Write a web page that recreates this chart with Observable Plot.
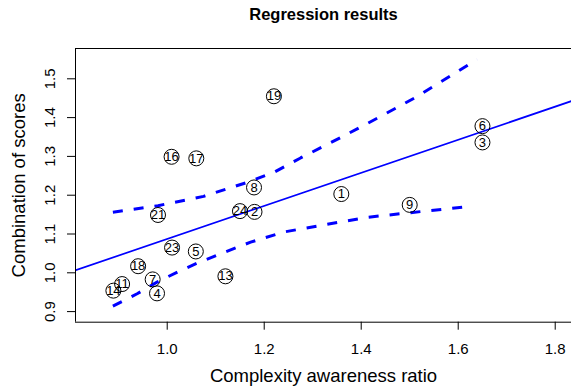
<!DOCTYPE html>
<html><head><meta charset="utf-8">
<script src="https://cdn.jsdelivr.net/npm/d3@7"></script>
<script src="https://cdn.jsdelivr.net/npm/@observablehq/plot@0.6"></script>
<style>body{margin:0;background:#fff} svg{display:block}</style>
</head><body><div id="chart"></div>
<script>
// Observations (case number, complexity awareness ratio, combination of scores)
const ids   = [1, 2, 3, 4, 5, 6, 7, 8, 9, 11, 13, 14, 16, 17, 18, 19, 21, 23, 24];
const ratio = [1.359, 1.180, 1.650, 0.979, 1.059, 1.650, 0.970, 1.179, 1.500, 0.907, 1.120, 0.889, 1.009, 1.060, 0.940, 1.220, 0.981, 1.010, 1.150];
const score = [1.203, 1.157, 1.336, 0.947, 1.055, 1.378, 0.983, 1.220, 1.175, 0.971, 0.991, 0.954, 1.299, 1.295, 1.017, 1.455, 1.149, 1.065, 1.159];

// Fitted regression line (read at the two plot edges)
const fitX = [0.81, 1.84];
const fitY = [1.0062, 1.4453];

// Confidence band
const upperX = [0.888, 0.981, 1.075, 1.165, 1.220, 1.275, 1.357, 1.440, 1.515, 1.591, 1.639];
const upperY = [1.156, 1.173, 1.197, 1.233, 1.259, 1.296, 1.348, 1.403, 1.454, 1.513, 1.550];
const lowerX = [0.888, 0.938, 0.979, 1.021, 1.062, 1.110, 1.172, 1.240, 1.316, 1.412, 1.502, 1.629];
const lowerY = [0.914, 0.946, 0.976, 1.002, 1.025, 1.049, 1.079, 1.105, 1.122, 1.143, 1.155, 1.172];

const xTicks = [1.0, 1.2, 1.4, 1.6, 1.8];
const yTicks = [0.9, 1.0, 1.1, 1.2, 1.3, 1.4, 1.5];

const xDomain = [0.8109, 1.8336];
const yDomain = [0.8727, 1.5781];

const points = ids.map((id, i) => ({id: String(id), x: ratio[i], y: score[i]}));
const fit = fitX.map((x, i) => ({x, y: fitY[i]}));
const upper = upperX.map((x, i) => ({x, y: upperY[i]}));
const lower = lowerX.map((x, i) => ({x, y: lowerY[i]}));

const blue = "#0000ff";
const fmt = d3.format(".1f");

const chart = Plot.plot({
  width: 571,
  height: 390,
  marginTop: 48,
  marginBottom: 68.3,
  marginLeft: 75,
  marginRight: 0,
  style: {fontFamily: "'Liberation Sans', Arial, sans-serif", background: "#fff", color: "#000"},
  x: {domain: xDomain},
  y: {domain: yDomain},
  marks: [
    Plot.line(fit, {x: "x", y: "y", stroke: blue, strokeWidth: 1.7, clip: true}),
    Plot.line(upper, {x: "x", y: "y", stroke: blue, strokeWidth: 3, strokeDasharray: "10,11", strokeLinecap: "butt"}),
    Plot.line(lower, {x: "x", y: "y", stroke: blue, strokeWidth: 3, strokeDasharray: "10,11", strokeLinecap: "butt"}),
    Plot.dot(points, {x: "x", y: "y", r: 7.5, stroke: "#000", strokeWidth: 1, fill: "none"}),
    Plot.text(points, {x: "x", y: "y", text: "id", fontSize: 13, fill: "#000"}),
    Plot.ruleX([xDomain[0]], {stroke: "#000", strokeWidth: 1}),
    Plot.ruleY(yDomain, {stroke: "#000", strokeWidth: 1}),
    Plot.axisX(xTicks, {tickSize: 8, tickPadding: 13, fontSize: 15, tickFormat: fmt, label: null}),
    Plot.axisY(yTicks, {tickSize: 8, tickPadding: 13, tickRotate: -90, fontSize: 15, tickFormat: fmt, label: null}),
    Plot.text(["Regression results"], {text: d => d, frameAnchor: "top", textAnchor: "middle", lineAnchor: "middle", dy: -33.3, fontSize: 16.5, fontWeight: "bold"}),
    Plot.text(["Complexity awareness ratio"], {text: d => d, frameAnchor: "bottom", textAnchor: "middle", lineAnchor: "bottom", dy: 59.4, fontSize: 18.5}),
    Plot.text(["Combination of scores"], {text: d => d, frameAnchor: "left", textAnchor: "middle", lineAnchor: "middle", dx: -56, rotate: -90, fontSize: 18.5})
  ]
});
document.getElementById("chart").appendChild(chart);
</script>
</body></html>
